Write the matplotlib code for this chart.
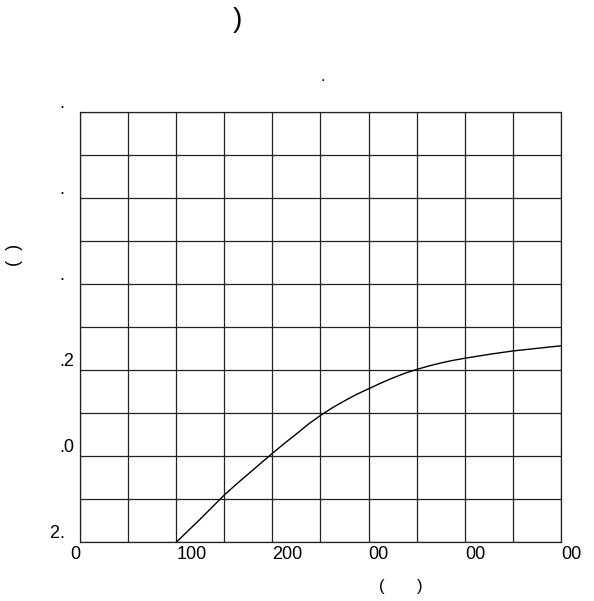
import matplotlib
matplotlib.use("Agg")
import matplotlib.pyplot as plt
import numpy as np

plt.rcParams["font.family"] = ["Liberation Sans", "DejaVu Sans"]

# curve (y in grid-row units)
x_vals = [100, 112.5, 125, 137.5, 150, 162.5, 175, 187.5, 200, 212.5, 225, 237.5,
          250, 262.5, 275, 287.5, 300, 312.5, 325, 337.5, 350, 362.5, 375, 387.5,
          400, 425, 450, 475, 500]
y_vals = [0.0, 0.27, 0.54, 0.82, 1.10, 1.35, 1.59, 1.83, 2.07, 2.30, 2.52, 2.75,
          2.95, 3.13, 3.29, 3.44, 3.57, 3.70, 3.82, 3.93, 4.02, 4.10, 4.17, 4.23,
          4.28, 4.37, 4.45, 4.51, 4.57]

x_ticks = [0, 100, 200, 300, 400, 500]
x_labels = ["0", "100", "200", "00", "00", "00"]
y_ticks = [0, 2, 4, 6, 8, 10]
y_labels = ["2.  ", ".0", ".2", ".  ", ".  ", ".  "]

fig = plt.figure(figsize=(5.94, 6.01), dpi=100)
ax = fig.add_axes([0.1347, 0.0977, 0.8097, 0.7154])

ax.plot(x_vals, y_vals, color="black", lw=1)
ax.set_xlim(0, 500)
ax.set_ylim(0, 10)

ax.set_xticks(np.arange(0, 501, 50), minor=True)
ax.set_yticks(np.arange(0, 11, 1), minor=True)
ax.grid(True, which="both", color="#222222", lw=0.9)
ax.set_axisbelow(True)
for s in ax.spines.values():
    s.set_color("#222222")
    s.set_linewidth(0.9)

ax.set_xticks(x_ticks, x_labels, fontsize=13)
ax.set_yticks(y_ticks, y_labels, fontsize=13)
ax.tick_params(which="both", length=0)
ax.tick_params(axis="x", pad=3)
ax.tick_params(axis="y", pad=4)
for i, t in enumerate(ax.get_xticklabels()):
    t.set_ha("right" if i == 0 else "left")
for t in ax.get_yticklabels():
    t.set_va("bottom")

ax.set_xlabel("(       )", fontsize=12)
ax.xaxis.set_label_coords(0.668, -0.085)
ax.set_ylabel("(  )", fontsize=13)
ax.yaxis.set_label_coords(-0.118, 0.668)

fig.text(237 / 594, 1 - 20 / 601, ")", fontsize=20, ha="center", va="center")
fig.text(323 / 594, 1 - 81 / 601, ".", fontsize=12, ha="center", va="baseline")

fig.savefig("out.png", dpi=100)
